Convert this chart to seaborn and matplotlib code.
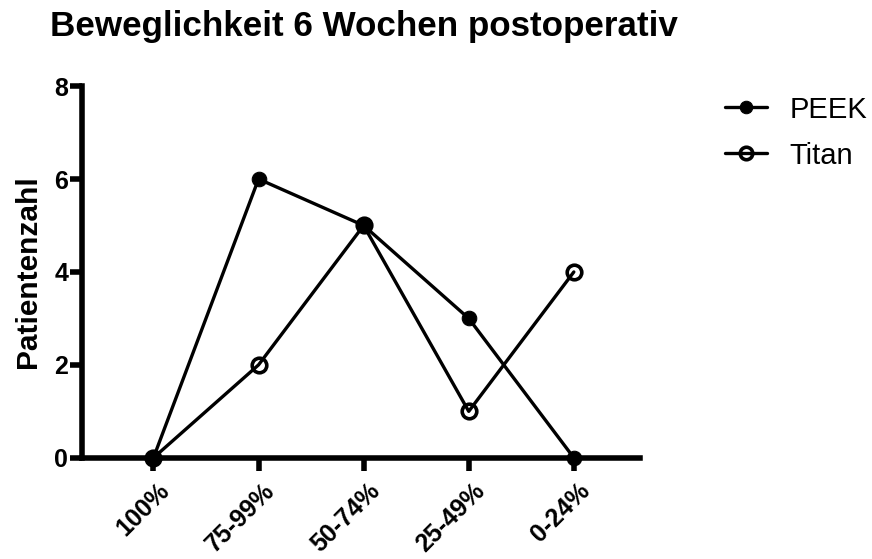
import pandas as pd
import matplotlib.pyplot as plt
import matplotlib.transforms as mtrans
import seaborn as sns

# Daten
kategorien = ['100%', '75-99%', '50-74%', '25-49%', '0-24%']
peek = [0, 6, 5, 3, 0]
titan = [0, 2, 5, 1, 4]

df = pd.DataFrame({'Beweglichkeit': kategorien * 2,
                   'Patientenzahl': peek + titan,
                   'Gruppe': ['PEEK'] * 5 + ['Titan'] * 5})

sns.set_style('white')
plt.rcParams['font.family'] = ['Liberation Sans', 'DejaVu Sans']
plt.rcParams['text.color'] = 'black'
plt.rcParams['axes.labelcolor'] = 'black'
plt.rcParams['xtick.color'] = 'black'
plt.rcParams['ytick.color'] = 'black'

fig = plt.figure(figsize=(8.72, 5.59), dpi=100)
ax = fig.add_axes([0.094, 0.181, 0.640, 0.665])

sns.lineplot(data=df[df['Gruppe'] == 'PEEK'], x='Beweglichkeit', y='Patientenzahl',
             ax=ax, color='black', lw=2.4, marker='o', markersize=10.5,
             markerfacecolor='black', markeredgecolor='black', label='PEEK')
sns.lineplot(data=df[df['Gruppe'] == 'Titan'], x='Beweglichkeit', y='Patientenzahl',
             ax=ax, color='black', lw=2.4, marker='o', markersize=10.5,
             markerfacecolor='none', markeredgecolor='black', markeredgewidth=2.6,
             label='Titan')

ax.set_xlim(-0.68, 4.63)
ax.set_ylim(0, 8)
ax.set_yticks([0, 2, 4, 6, 8])
ax.set_xticks(range(len(kategorien)))
ax.set_xticklabels(kategorien, rotation=45, ha='right', rotation_mode='anchor',
                   fontsize=18, fontweight='bold')
ax.set_yticklabels([0, 2, 4, 6, 8], fontsize=18, fontweight='bold')
ax.tick_params(axis='both', direction='out', length=9, width=4, color='black',
               bottom=True, left=True, pad=1)
ax.tick_params(axis='x', pad=6)
versatz = mtrans.ScaledTranslation(4 / 100, 0, fig.dpi_scale_trans)
for t in ax.get_xticklabels():
    t.set_transform(t.get_transform() + versatz)

for s in ['top', 'right']:
    ax.spines[s].set_visible(False)
for s in ['left', 'bottom']:
    ax.spines[s].set_linewidth(4)
    ax.spines[s].set_color('black')
for l in ax.lines:
    l.set_clip_on(False)
    l.set_zorder(3)

ax.set_xlabel('')
ax.set_ylabel('Patientenzahl', fontsize=21.5, fontweight='bold', labelpad=9)

fig.text(0.417, 1 - 36 / 559, 'Beweglichkeit 6 Wochen postoperativ', ha='center', va='baseline',
         fontsize=25.2, fontweight='bold')

leg = ax.legend(loc='upper left', bbox_to_anchor=(725 / 872, 1 - 95.6 / 559),
                bbox_transform=fig.transFigure, frameon=False, fontsize=21,
                handlelength=1.43, handletextpad=0.79, labelspacing=0.62,
                borderaxespad=0, borderpad=0)
for h in leg.legend_handles:
    h.set_markersize(9)

fig.savefig('out.png', dpi=100)
